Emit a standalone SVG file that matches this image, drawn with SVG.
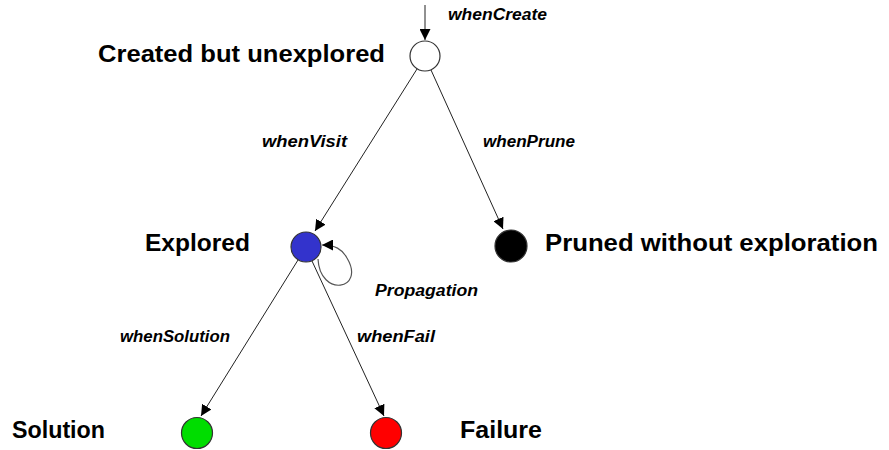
<svg xmlns="http://www.w3.org/2000/svg" width="889" height="450" viewBox="0 0 889 450">
  <style>
    .state { stroke: #333; stroke-width: 1.2; }
    .name { font-family: "Liberation Sans", Arial, sans-serif; font-weight: bold; font-size: 23px; fill: #000; }
    .event { font-family: "Liberation Sans", Arial, sans-serif; font-weight: bold; font-style: italic; font-size: 16px; fill: #000; }
    .edge { fill: none; stroke: #222; stroke-width: 1; marker-end: url(#head); }
    .loop { fill: none; stroke: #555; stroke-width: 1.2; marker-end: url(#head); }
  </style>
  <defs>
    <marker id="head" viewBox="0 0 10 10" refX="10" refY="5" markerWidth="11" markerHeight="11" markerUnits="userSpaceOnUse" orient="auto">
      <path d="M0,0 L10,5 L0,10 Z" fill="#000"/>
    </marker>
  </defs>

  <rect width="889" height="450" fill="#fff"/>

  <g id="connectors">
    <path class="edge" d="M425,5 L425,40"/>
    <path class="edge" d="M417,69 L315,231"/>
    <path class="edge" d="M431,70 L503,229"/>
    <path class="edge" d="M298,260 L201,416"/>
    <path class="edge" d="M312,261 L384,416"/>
    <path class="loop" d="M318,259 C320,298 366,290 347,258 C342,249 335,245 322,245"/>
    <text class="event" x="448" y="20" textLength="99" lengthAdjust="spacingAndGlyphs">whenCreate</text>
    <text class="event" x="262" y="147" textLength="85" lengthAdjust="spacingAndGlyphs">whenVisit</text>
    <text class="event" x="483" y="147" textLength="92" lengthAdjust="spacingAndGlyphs">whenPrune</text>
    <text class="event" x="375" y="296" textLength="103" lengthAdjust="spacingAndGlyphs">Propagation</text>
    <text class="event" x="120" y="342" textLength="110" lengthAdjust="spacingAndGlyphs">whenSolution</text>
    <text class="event" x="357" y="342" textLength="78" lengthAdjust="spacingAndGlyphs">whenFail</text>
  </g>

  <g id="created">
    <circle class="state" cx="425" cy="56" r="15" fill="#fff"/>
    <text class="name" x="98" y="62" textLength="287" lengthAdjust="spacingAndGlyphs">Created but unexplored</text>
  </g>

  <g id="explored">
    <circle class="state" cx="306" cy="247" r="15" fill="#3333cc"/>
    <text class="name" x="145" y="251" textLength="105" lengthAdjust="spacingAndGlyphs">Explored</text>
  </g>

  <g id="pruned">
    <circle class="state" cx="511" cy="246" r="16" fill="#000"/>
    <text class="name" x="545" y="251" textLength="333" lengthAdjust="spacingAndGlyphs">Pruned without exploration</text>
  </g>

  <g id="solution">
    <circle class="state" cx="197" cy="433" r="15.5" fill="#00dd00"/>
    <text class="name" x="12" y="438" textLength="93" lengthAdjust="spacingAndGlyphs">Solution</text>
  </g>

  <g id="failure">
    <circle class="state" cx="386" cy="433" r="15.5" fill="#ff0000"/>
    <text class="name" x="460" y="438" textLength="82" lengthAdjust="spacingAndGlyphs">Failure</text>
  </g>
</svg>
